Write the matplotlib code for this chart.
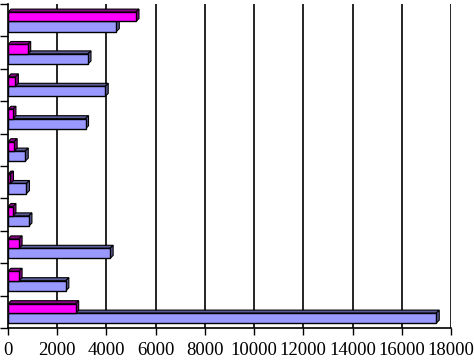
import numpy as np
import matplotlib
matplotlib.use("Agg")
import matplotlib.pyplot as plt
from matplotlib.patches import Polygon, Rectangle

# values listed top to bottom as they appear in the chart
series_blue = [4400, 3250, 3950, 3150, 700, 750, 850, 4150, 2350, 17400]
series_magenta = [5200, 800, 300, 200, 250, 100, 200, 450, 450, 2750]
xticks = list(range(0, 18001, 2000))

plt.rcParams['font.family'] = ['Liberation Serif', 'DejaVu Serif']

fig = plt.figure(figsize=(4.74, 3.6), dpi=100)
ax = fig.add_axes([8/474, 32/360, 443/474, 324/360])

n = len(series_blue)
xmax = 18000
dx = 3 * xmax / 443.0      # depth of 3d face, ~3 px
dy = 3 / 32.4

def bar3d(ax, y0, y1, v, face, side):
    ax.add_patch(Polygon([(0, y1), (v, y1), (v+dx, y1+dy), (dx, y1+dy)],
                         closed=True, fc=side, ec="black", lw=0.8, zorder=3))
    ax.add_patch(Polygon([(v, y0), (v+dx, y0+dy), (v+dx, y1+dy), (v, y1)],
                         closed=True, fc=side, ec="black", lw=0.8, zorder=3))
    ax.add_patch(Rectangle((0, y0), v, y1-y0, fc=face, ec="black", lw=1.0, zorder=3))

for k in range(n):
    i = n - 1 - k   # position from bottom
    bar3d(ax, i+0.15, i+0.46, series_blue[k], "#9999ff", "#5c5c99")
    bar3d(ax, i+0.46, i+0.75, series_magenta[k], "#ff00ff", "#8c008c")

for x in xticks[1:]:
    ax.axvline(x, color="black", lw=1.2, zorder=1)

ax.set_xlim(0, xmax)
ax.set_ylim(0, n)
ax.set_xticks(xticks)
ax.set_xticklabels([str(x) for x in xticks], fontsize=13.5)
ax.set_yticks(range(n+1))
ax.set_yticklabels([])
ax.tick_params(axis="y", direction="out", length=6, width=1, color="black")
ax.tick_params(axis="x", direction="out", length=5, width=1, color="black", pad=5)
ax.spines["top"].set_visible(False)
ax.spines["right"].set_visible(False)
ax.spines["left"].set_linewidth(1.2)
ax.spines["bottom"].set_linewidth(1.2)

fig.savefig("out.png", dpi=100)
